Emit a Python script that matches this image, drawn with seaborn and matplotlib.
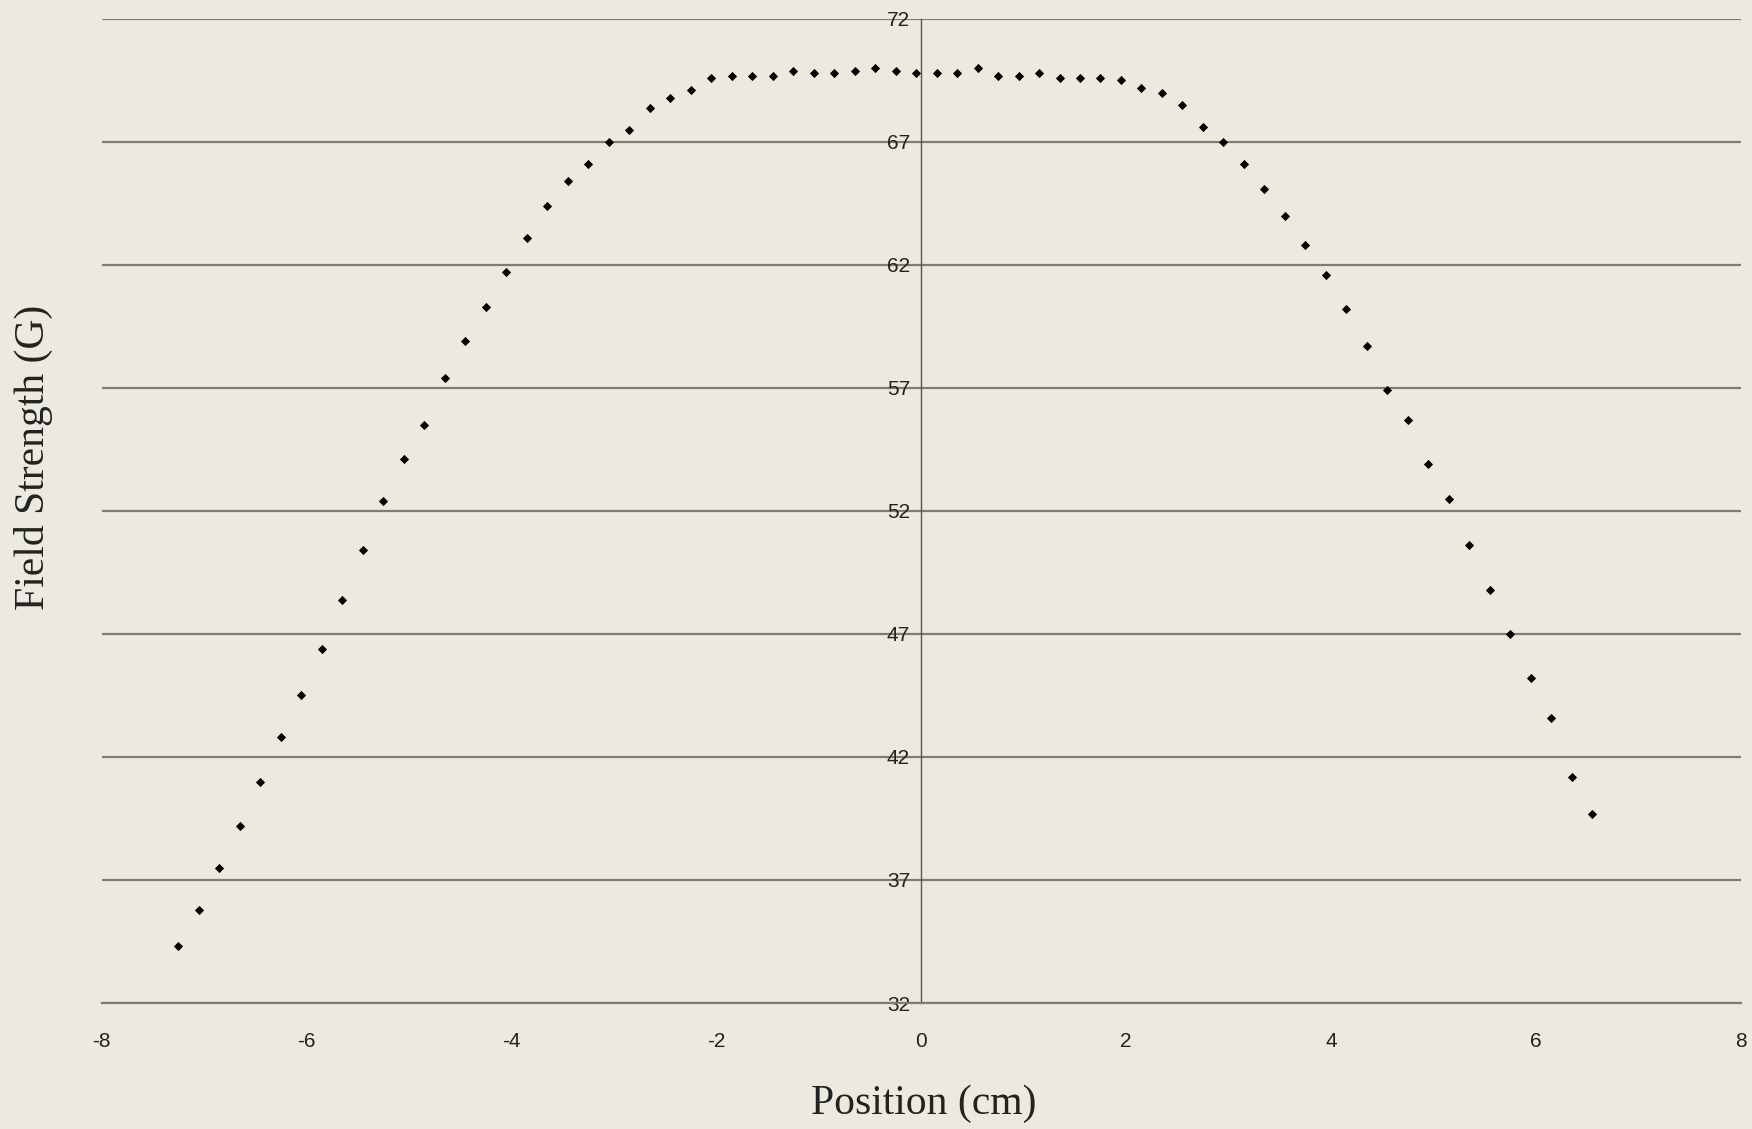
import matplotlib
matplotlib.use("Agg")
import matplotlib.pyplot as plt
import seaborn as sns
import pandas as pd

# --- data ---
POSITION_CM = [
    -7.25, -7.05, -6.85, -6.65, -6.45, -6.25, -6.05, -5.85, -5.65, -5.45,
    -5.25, -5.05, -4.85, -4.65, -4.45, -4.25, -4.05, -3.85, -3.65, -3.45,
    -3.25, -3.05, -2.85, -2.65, -2.45, -2.25, -2.05, -1.85, -1.65, -1.45,
    -1.25, -1.05, -0.85, -0.65, -0.45, -0.25, -0.05, 0.15, 0.35, 0.55,
    0.75, 0.95, 1.15, 1.35, 1.55, 1.75, 1.95, 2.15, 2.35, 2.55,
    2.75, 2.95, 3.15, 3.35, 3.55, 3.75, 3.95, 4.15, 4.35, 4.55,
    4.75, 4.95, 5.15, 5.35, 5.55, 5.75, 5.95, 6.15, 6.35, 6.55,
]
FIELD_G = [
    34.3, 35.8, 37.5, 39.2, 41.0, 42.8, 44.5, 46.4, 48.4, 50.4,
    52.4, 54.1, 55.5, 57.4, 58.9, 60.3, 61.7, 63.1, 64.4, 65.4,
    66.1, 67.0, 67.5, 68.4, 68.8, 69.1, 69.6, 69.7, 69.7, 69.7,
    69.9, 69.8, 69.8, 69.9, 70.0, 69.9, 69.8, 69.8, 69.8, 70.0,
    69.7, 69.7, 69.8, 69.6, 69.6, 69.6, 69.5, 69.2, 69.0, 68.5,
    67.6, 67.0, 66.1, 65.1, 64.0, 62.8, 61.6, 60.2, 58.7, 56.9,
    55.7, 53.9, 52.5, 50.6, 48.8, 47.0, 45.2, 43.6, 41.2, 39.7,
]
X_TICKS = [-8, -6, -4, -2, 0, 2, 4, 6, 8]
Y_TICKS = [32, 37, 42, 47, 52, 57, 62, 67, 72]

BG = "#ECEADF"

df = pd.DataFrame({"Position": POSITION_CM, "Field": FIELD_G})

sns.set_style("white")
plt.rcParams["font.family"] = ["Liberation Sans", "DejaVu Sans"]

fig = plt.figure(figsize=(17.52, 11.29), dpi=100, facecolor=BG)
ax = fig.add_axes([0.058, 0.1116, 0.9356, 0.8716])
ax.set_facecolor(BG)

sns.scatterplot(data=df, x="Position", y="Field", marker="D", color="black",
                s=22, linewidth=0, ax=ax, zorder=3)

# y axis crosses at x = 0 (set before ticks, it resets them)
ax.spines["left"].set_position(("data", 0))
ax.spines["left"].set_color("#555555")
ax.spines["left"].set_linewidth(1.0)
ax.spines["right"].set_visible(False)
ax.spines["top"].set_visible(False)
ax.spines["bottom"].set_color("#7d7d76")
ax.spines["bottom"].set_linewidth(1.6)

ax.set_xlim(-8, 8)
ax.set_ylim(32, 72)
ax.set_xticks(X_TICKS)
ax.set_yticks(Y_TICKS)
ax.set_xticklabels([str(t) for t in X_TICKS])
ax.set_yticklabels([str(t) for t in Y_TICKS])

# horizontal gridlines only
ax.yaxis.grid(True, color="#7d7d76", linewidth=1.6)
ax.xaxis.grid(False)

ax.tick_params(axis="y", length=0, pad=8, labelsize=15, labelcolor="#222222")
ax.tick_params(axis="x", direction="out", length=7, width=1.0,
               color="#666666", pad=14, labelsize=15, labelcolor="#222222")

ax.set_xlabel("")
ax.set_ylabel("")
fig.text(0.527, 0.022, "Position (cm)", ha="center", va="center",
         fontsize=30, family=["Liberation Serif", "DejaVu Serif"], color="#222222")
fig.text(0.019, 0.595, "Field Strength (G)", ha="center", va="center",
         rotation=90, fontsize=30, family=["Liberation Serif", "DejaVu Serif"],
         color="#222222")

fig.savefig("out.png", dpi=100, facecolor=BG)
